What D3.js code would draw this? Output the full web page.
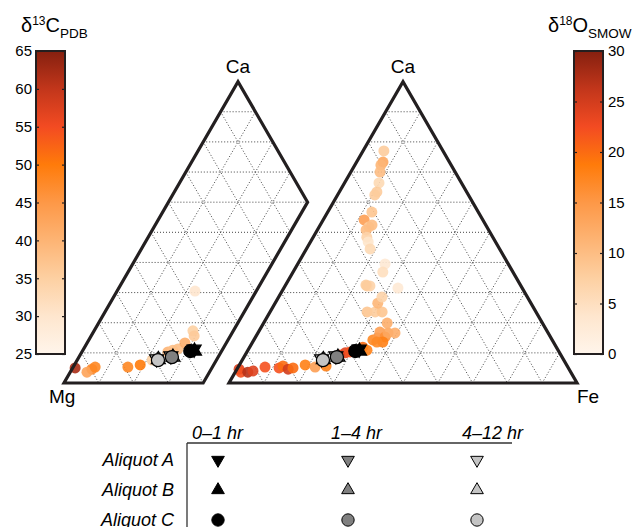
<!DOCTYPE html>
<html>
<head>
<meta charset="utf-8">
<script src="https://cdn.jsdelivr.net/npm/d3@7"></script>
<style>
  body { margin: 0; background: #fff; }
  svg { font-family: "Liberation Sans", Arial, Helvetica, sans-serif; }
</style>
</head>
<body>
<div id="root"></div>
<script>
// ---- data ----
// left triangle: Ca / Fe mole fractions (Mg = rest), coloured by d13C
const leftCa = [0.050, 0.046, 0.036, 0.053, 0.053, 0.060, 0.076, 0.103, 0.109, 0.113, 0.133, 0.173, 0.156, 0.305];
const leftFe = [0.007, 0.057, 0.048, 0.063, 0.157, 0.189, 0.215, 0.247, 0.258, 0.271, 0.281, 0.284, 0.296, 0.224];
const leftD13C = [62, 47, 43, 48, 48, 50, 35, 40, 38, 38, 41, 35, 36, 30];

// right triangle: coloured by d18O
const rightCa = [0.046, 0.036, 0.036, 0.040, 0.053, 0.050, 0.056, 0.046, 0.050, 0.060, 0.053, 0.056,
  0.093, 0.100, 0.103, 0.119, 0.109, 0.106, 0.143, 0.149, 0.169, 0.153, 0.166, 0.166, 0.136, 0.136,
  0.199, 0.236, 0.236, 0.236, 0.265, 0.285, 0.322, 0.322, 0.315, 0.770, 0.733, 0.723, 0.700, 0.664,
  0.634, 0.624, 0.567, 0.541, 0.518, 0.508, 0.484, 0.468, 0.445, 0.395, 0.368, 0.524, 0.325];
const rightFe = [0.006, 0.016, 0.036, 0.049, 0.077, 0.119, 0.127, 0.147, 0.159, 0.189, 0.221, 0.251,
  0.272, 0.284, 0.296, 0.325, 0.342, 0.309, 0.342, 0.353, 0.349, 0.372, 0.374, 0.394, 0.374, 0.357,
  0.355, 0.279, 0.302, 0.322, 0.295, 0.297, 0.236, 0.244, 0.328, 0.060, 0.076, 0.075, 0.084, 0.099,
  0.108, 0.107, 0.127, 0.118, 0.143, 0.140, 0.154, 0.166, 0.183, 0.251, 0.258, 0.149, 0.231];
const rightD18O = [24, 22, 27, 24, 22, 22, 20, 25, 20, 18, 14, 18,
  23, 24, 22, 20, 18, 24, 17, 15, 14, 16, 13, 12, 18, 17,
  12, 9, 8, 9, 11, 7, 8, 7, 3, 8, 13, 11, 10, 6,
  8, 8, 9, 14, 8, 10, 7, 4, 6, 3, 5, 10, 8];

// aliquot markers (same in both triangles): [time][aliquot]
const times = ["0\u20131 hr", "1\u20134 hr", "4\u201312 hr"];
const aliquots = ["Aliquot A", "Aliquot B", "Aliquot C"];
const markerCa = [[0.112, 0.106, 0.106], [0.090, 0.086, 0.086], [0.080, 0.078, 0.076]];
const markerFe = [[0.318, 0.322, 0.310], [0.262, 0.270, 0.267], [0.226, 0.232, 0.232]];

const c13Ticks = [25, 30, 35, 40, 45, 50, 55, 60, 65];
const o18Ticks = [0, 5, 10, 15, 20, 25, 30];

// ---- layout ----
const W = 634, H = 527;
const side = 348, triH = side * Math.sqrt(3) / 2;
const base = 383;
const leftX0 = 64, rightX0 = 229;
const feCut = 0.4;
const ink = "#231f20";
const shades = ["#000000", "#808080", "#c4c4c4"];
const cmap = ["#fff5eb", "#fee6ce", "#fdd0a2", "#fdb474", "#fd9847", "#ff7b0a", "#f34b22", "#c2361b", "#85200f"];

const tScale = d3.scaleLinear().domain(d3.range(cmap.length).map(i => i / (cmap.length - 1))).range(cmap);
const c13Color = d3.scaleLinear().domain([25, 65]).range([0, 1]);
const o18Color = d3.scaleLinear().domain([0, 30]).range([0, 1]);

const xScale = d3.scaleLinear().domain([0, 1]).range([0, side]);
const yScale = d3.scaleLinear().domain([0, 1]).range([base, base - triH]);
const proj = (x0, ca, fe) => [x0 + xScale(fe + ca / 2), yScale(ca)];

const svg = d3.select("#root").append("svg").attr("width", W).attr("height", H);
const line = d3.line();

function drawTriangle(x0, feMax) {
    const g = svg.append("g");
    const segs = [];
    for (let k = 1; k < 10; k++) {
        const v = k / 10;
        // constant Ca
        segs.push([[v, 0], [v, Math.min(1 - v, feMax)]]);
        // constant Fe
        if (v < feMax - 1e-9) segs.push([[0, v], [1 - v, v]]);
        // constant Mg (ca + fe = s)
        const s = 1 - v;
        const fe2 = Math.min(s, feMax);
        segs.push([[s, 0], [s - fe2, fe2]]);
    }
    g.selectAll("path.grid").data(segs).enter().append("path")
        .attr("class", "grid")
        .attr("d", d => line(d.map(p => proj(x0, p[0], p[1]))))
        .attr("fill", "none")
        .attr("stroke", "#444")
        .attr("stroke-width", 1)
        .attr("stroke-dasharray", "1,2");
    return g;
}

function drawOutline(x0, feMax) {
    const pts = feMax < 1
        ? [[0, 0], [0, feMax], [1 - feMax, feMax], [1, 0]]
        : [[0, 0], [0, 1], [1, 0]];
    svg.append("path")
        .attr("d", line(pts.map(p => proj(x0, p[0], p[1]))) + "Z")
        .attr("fill", "none")
        .attr("stroke", ink)
        .attr("stroke-width", 3.2)
        .attr("stroke-linejoin", "miter");
}

function drawPoints(x0, ca, fe, val, cScale) {
    svg.append("g").selectAll("circle").data(d3.range(ca.length)).enter().append("circle")
        .attr("cx", i => proj(x0, ca[i], fe[i])[0])
        .attr("cy", i => proj(x0, ca[i], fe[i])[1])
        .attr("r", 5.5)
        .attr("fill", i => tScale(cScale(val[i])))
        .attr("fill-opacity", 0.9);
}

const triSym = d3.symbol().type(d3.symbolTriangle).size(85);
const cirSym = d3.symbol().type(d3.symbolCircle).size(135);

function markerPath(a) { return a === 2 ? cirSym() : triSym(); }
function markerRot(a) { return a === 0 ? " rotate(180)" : ""; }

function drawMarkers(x0) {
    const items = [];
    for (let t = 2; t >= 0; t--) for (let a = 0; a < 3; a++) items.push({ t, a });
    svg.append("g").selectAll("path").data(items).enter().append("path")
        .attr("d", d => markerPath(d.a))
        .attr("transform", d => {
            const p = proj(x0, markerCa[d.t][d.a], markerFe[d.t][d.a]);
            return "translate(" + p[0] + "," + p[1] + ")" + markerRot(d.a);
        })
        .attr("fill", d => shades[d.t])
        .attr("stroke", "#000")
        .attr("stroke-width", 1.2);
}

// left triangle (truncated at Fe = 0.4)
drawTriangle(leftX0, feCut);
drawPoints(leftX0, leftCa, leftFe, leftD13C, c13Color);
drawMarkers(leftX0);
drawOutline(leftX0, feCut);

// right triangle
drawTriangle(rightX0, 1);
drawPoints(rightX0, rightCa, rightFe, rightD18O, o18Color);
drawMarkers(rightX0);
drawOutline(rightX0, 1);

// vertex labels
const apexL = proj(leftX0, 1, 0), apexR = proj(rightX0, 1, 0);
svg.append("text").attr("x", apexL[0]).attr("y", apexL[1] - 9).attr("text-anchor", "middle")
    .style("font-size", "19px").text("Ca");
svg.append("text").attr("x", apexR[0]).attr("y", apexR[1] - 9).attr("text-anchor", "middle")
    .style("font-size", "19px").text("Ca");
svg.append("text").attr("x", leftX0 - 15).attr("y", base + 20).style("font-size", "19px").text("Mg");
svg.append("text").attr("x", rightX0 + side).attr("y", base + 20).style("font-size", "19px").text("Fe");

// ---- colour bars ----
const defs = svg.append("defs");
const grad = defs.append("linearGradient").attr("id", "cbar")
    .attr("x1", 0).attr("y1", 1).attr("x2", 0).attr("y2", 0);
grad.selectAll("stop").data(cmap).enter().append("stop")
    .attr("offset", (d, i) => i / (cmap.length - 1))
    .attr("stop-color", d => d);

const barTop = 51, barBot = 354, barW = 29;

function colorBar(x, domain, ticks, labelsLeft) {
    const s = d3.scaleLinear().domain(domain).range([barBot, barTop]);
    svg.append("rect").attr("x", x).attr("y", barTop).attr("width", barW).attr("height", barBot - barTop)
        .attr("fill", "url(#cbar)");
    const axL = d3.axisLeft(s).tickValues(ticks).tickSizeInner(-3).tickSizeOuter(0).tickPadding(4);
    const axR = d3.axisRight(s).tickValues(ticks).tickSizeInner(-3).tickSizeOuter(0).tickPadding(5);
    if (labelsLeft) axR.tickFormat("");
    else axL.tickFormat("");
    [[axL, x], [axR, x + barW]].forEach(([ax, px]) => {
        const g = svg.append("g").attr("transform", "translate(" + px + ",0)").call(ax);
        g.select(".domain").remove();
        g.selectAll("line").attr("stroke", ink).attr("stroke-width", 1.2);
        g.selectAll("text").attr("fill", "#000").style("font-size", "15px")
            .style("font-family", "'Liberation Sans', Arial, sans-serif");
    });
    svg.append("rect").attr("x", x).attr("y", barTop).attr("width", barW).attr("height", barBot - barTop)
        .attr("fill", "none").attr("stroke", ink).attr("stroke-width", 2);
}

colorBar(36, [25, 65], c13Ticks, true);
colorBar(574, [0, 30], o18Ticks, false);

// colour bar titles
function cbTitle(x, sup, main, sub) {
    const t = svg.append("text").attr("x", x).attr("y", 32).style("font-size", "20px");
    t.append("tspan").text("\u03B4");
    t.append("tspan").attr("dy", -7).style("font-size", "12px").text(sup);
    t.append("tspan").attr("dy", 7).text(main);
    t.append("tspan").attr("dy", 6).style("font-size", "13.5px").text(sub);
}
cbTitle(21, "13", "C", "PDB");
cbTitle(548, "18", "O", "SMOW");

// ---- legend table ----
const colX = [218, 348, 477];
const rowY = [460, 490, 520];
const table = svg.append("g").style("font-style", "italic").style("font-size", "18px");
table.selectAll("text.hdr").data(times).enter().append("text")
    .attr("class", "hdr")
    .attr("x", (d, i) => [192, 331, 462][i])
    .attr("y", 439)
    .text(d => d);
table.selectAll("text.row").data(aliquots).enter().append("text")
    .attr("class", "row")
    .attr("x", 174)
    .attr("y", (d, i) => rowY[i] + 6)
    .attr("text-anchor", "end")
    .text(d => d);
svg.append("line").attr("x1", 187).attr("x2", 512).attr("y1", 443).attr("y2", 443)
    .attr("stroke", "#333").attr("stroke-width", 1.3);
svg.append("line").attr("x1", 187).attr("x2", 187).attr("y1", 443).attr("y2", 530)
    .attr("stroke", "#333").attr("stroke-width", 1.3);

const cells = [];
for (let t = 0; t < 3; t++) for (let a = 0; a < 3; a++) cells.push({ t, a });
svg.append("g").selectAll("path").data(cells).enter().append("path")
    .attr("d", d => d.a === 2 ? d3.symbol().type(d3.symbolCircle).size(120)() : d3.symbol().type(d3.symbolTriangle).size(70)())
    .attr("transform", d => "translate(" + colX[d.t] + "," + rowY[d.a] + ")" + markerRot(d.a))
    .attr("fill", d => shades[d.t])
    .attr("stroke", "#000")
    .attr("stroke-width", 1);
</script>
</body>
</html>
